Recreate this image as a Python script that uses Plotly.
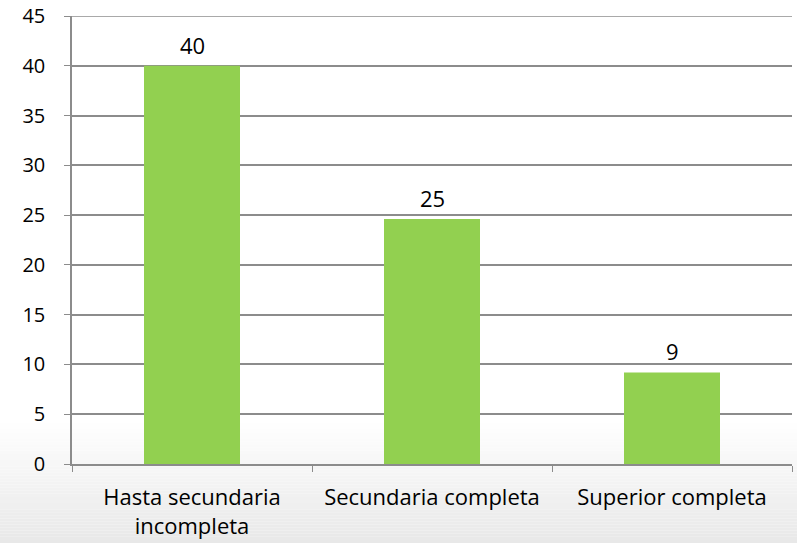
import plotly.graph_objects as go

categories = ["Hasta secundaria<br>incompleta", "Secundaria completa", "Superior completa"]
values = [40, 24.6, 9.2]
labels = ["40", "25", "9"]
y_ticks = [0, 5, 10, 15, 20, 25, 30, 35, 40, 45]

W, H = 797, 543
ml, mr, mt, mb = 72, 5, 16, 79
plot_h = H - mt - mb
FONT = "Open Sans"
FS = 22
GRID = "#8c8c8c"

fig = go.Figure(go.Bar(
    x=categories, y=values,
    marker=dict(color="#92D050", line=dict(width=0)),
    width=0.4,
))

annotations = [dict(x=c, y=v, text=t, showarrow=False, yshift=21, xref="x", yref="y",
                    font=dict(size=FS, color="#000000", family=FONT))
               for c, v, t in zip(categories, values, labels)]

# background gradient at the bottom of the image
shapes = []
g_top, g_bot = 420, H
n = 40
for i in range(n):
    p0 = g_top + (g_bot - g_top) * i / n
    p1 = g_top + (g_bot - g_top) * (i + 1) / n
    t = (i + 0.5) / n
    c = int(round(255 - t * 23))
    y0 = (H - mb - p1) / plot_h
    y1 = (H - mb - p0) / plot_h
    shapes.append(dict(type="rect", xref="paper", yref="paper", x0=-ml / (W - ml - mr), x1=1 + mr / (W - ml - mr),
                       y0=y0, y1=y1, fillcolor=f"rgb({c},{c},{c})", line=dict(width=0), layer="below"))

# top gridline (at the last tick, which plotly skips at the plot edge)
shapes.append(dict(type="line", xref="paper", yref="y", x0=-6 / (W - ml - mr), x1=1,
                   y0=y_ticks[-1], y1=y_ticks[-1], line=dict(color=GRID, width=1.5)))

fig.update_layout(
    width=W, height=H,
    margin=dict(l=ml, r=mr, t=mt, b=mb, pad=0, autoexpand=False),
    paper_bgcolor="white", plot_bgcolor="rgba(0,0,0,0)",
    showlegend=False, shapes=shapes, annotations=annotations,
    font=dict(family=FONT, size=FS, color="#000000"),
    xaxis=dict(showline=True, linecolor=GRID, linewidth=1.5, ticks="outside", tickson="boundaries",
               ticklen=6, tickcolor=GRID, showgrid=False, tickfont=dict(size=FS),
               automargin=False, ticklabelstandoff=13),
    yaxis=dict(range=[0, 45], tickvals=y_ticks, showline=True, linecolor=GRID, linewidth=1.5,
               ticks="outside", ticklen=6, tickcolor=GRID, gridcolor=GRID, gridwidth=1.5,
               zeroline=False, tickfont=dict(size=20), ticklabelstandoff=15, automargin=False),
)

fig.write_html("out.html", config={"displayModeBar": False},
               post_script="document.body.style.margin='0';document.body.style.overflow='hidden';")
